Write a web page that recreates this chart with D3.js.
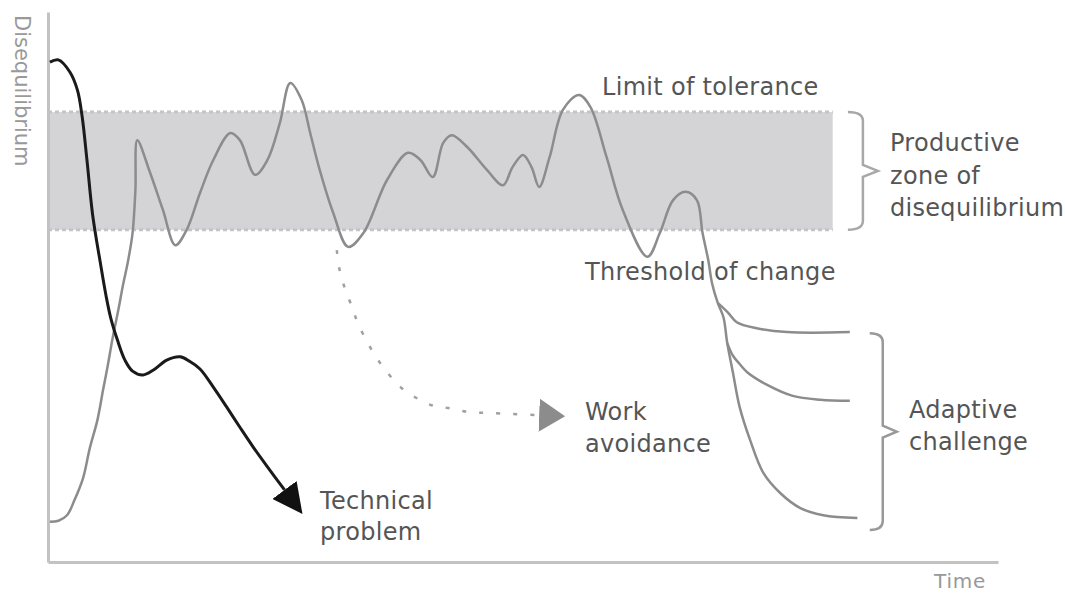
<!DOCTYPE html>
<html>
<head>
<meta charset="utf-8">
<script src="https://cdn.jsdelivr.net/npm/d3@7/dist/d3.min.js"></script>
<style>
  html, body { margin: 0; padding: 0; background: #fff; }
  svg { display: block; }
  .lbl { font-family: "DejaVu Sans", sans-serif; font-size: 24px; fill: #555; letter-spacing: 0.3px; }
  .axlbl { font-family: "DejaVu Sans", sans-serif; font-size: 20px; fill: #999; }
</style>
</head>
<body>
<svg id="chart" width="1065" height="595"></svg>
<script>
// ---- data (time, disequilibrium level), both on 0..100 scales ----
const oscillation = [
  [0.2,7.3],[1.1,7.5],[2.0,8.5],[2.8,11.3],[3.7,15.3],[4.4,20.7],[5.2,25.8],[5.8,31.3],
  [6.3,35.8],[6.8,40.7],[7.4,45.8],[7.9,50.4],[8.4,54.5],[8.9,59.8],[9.2,67.6],[9.4,76.7],
  [10.7,71.0],[12.1,64.0],[13.4,57.6],[14.6,60.4],[16.0,67.1],[17.4,73.1],
  [19.2,78.0],[20.2,76.7],[21.8,70.4],[23.1,73.1],[24.4,79.8],[25.5,87.1],[26.7,84.0],
  [27.6,78.0],[28.6,71.3],[30.0,63.6],[31.6,57.3],[33.2,59.8],[35.7,69.5],[37.9,74.4],
  [39.2,73.1],[40.5,70.0],[41.6,76.2],[42.5,77.6],[44.1,75.5],[46.2,71.3],[47.9,68.5],
  [48.9,71.8],[50.0,74.0],[50.9,71.8],[51.7,68.2],[52.8,73.6],[54.2,82.2],[55.9,84.9],
  [57.1,82.7],[58.8,73.6],[60.5,64.0],[63.1,55.5],[64.4,59.8],[65.8,65.8],[67.1,67.3],
  [68.3,65.8],[68.9,59.8],[69.5,54.9],[69.9,50.7],[70.5,47.1],[71.1,44.5],[71.5,39.8],
  [72.1,34.4],[72.8,28.2],[73.9,22.2],[75.3,16.2],[77.1,12.5],[79.2,9.8],[81.6,8.5],[85.2,8.0]
];
const adaptiveBranchHigh = [
  [70.5,47.1],[71.6,45.3],[72.5,43.6],[74.6,42.5],[77.8,41.8],[84.4,41.8]
];
const adaptiveBranchMid = [
  [71.5,39.8],[72.1,37.5],[72.8,36.0],[73.6,34.5],[75.7,32.2],[78.4,30.2],[81.3,29.5],[84.4,29.3]
];
const technicalProblem = [
  [0.2,90.9],[1.1,91.3],[2.3,89.1],[3.1,85.8],[3.6,80.9],[4.1,73.1],[4.7,63.1],[5.5,54.5],
  [6.1,48.5],[6.6,44.4],[7.3,40.4],[8.1,36.7],[8.9,34.7],[10.0,34.0],[11.1,34.9],[12.5,36.7],
  [13.9,37.3],[14.9,36.5],[16.0,35.1],[17.4,31.8],[18.8,28.2],[20.2,24.5],[21.6,20.9],
  [23.1,17.3],[24.9,13.1]
];
const workAvoidance = [
  [30.4,56.7],[30.7,53.1],[31.3,49.5],[32.0,46.4],[32.6,43.5],[33.6,40.0],[34.6,37.1],
  [35.7,34.5],[37.1,31.8],[38.6,30.0],[40.4,28.5],[42.1,28.0],[44.2,27.3],[46.2,27.1],[51.7,26.7]
];
const limitOfTolerance = 81.8;
const thresholdOfChange = 60.4;
const zoneEndTime = 82.6;
const productiveBraceTime = 84.2;
const adaptiveBraceTime = 86.5;
const adaptiveRange = [41.6, 5.8];
const xAxisLabel = "Time";
const yAxisLabel = "Disequilibrium";

// ---- scales ----
const svg = d3.select("#chart");
const x = d3.scaleLinear().domain([0, 100]).range([48, 998]);
const y = d3.scaleLinear().domain([0, 100]).range([562, 12]);

// productive zone band
svg.append("rect")
  .attr("x", x(0)).attr("y", y(limitOfTolerance))
  .attr("width", x(zoneEndTime) - x(0))
  .attr("height", y(thresholdOfChange) - y(limitOfTolerance))
  .attr("fill", "#d4d4d6");
[limitOfTolerance, thresholdOfChange].forEach(v => {
  svg.append("line")
    .attr("x1", x(0)).attr("x2", x(zoneEndTime))
    .attr("y1", y(v)).attr("y2", y(v))
    .attr("stroke", "#c4c4c6").attr("stroke-width", 3)
    .attr("stroke-dasharray", "4,3");
});

// axes (lines only)
const yAx = svg.append("g").attr("transform", `translate(${x(0)},0)`)
  .call(d3.axisLeft(y).tickValues([]).tickSizeOuter(0));
const xAx = svg.append("g").attr("transform", `translate(0,${y(0)})`)
  .call(d3.axisBottom(x).tickValues([]).tickSizeOuter(0));
[yAx, xAx].forEach(g => g.select(".domain").attr("stroke", "#c2c2c2").attr("stroke-width", 3));

// markers
const defs = svg.append("defs");
defs.append("marker").attr("id", "arrBlack")
  .attr("viewBox", "0 0 10 10").attr("refX", 0).attr("refY", 5)
  .attr("markerUnits", "userSpaceOnUse").attr("markerWidth", 30).attr("markerHeight", 30)
  .attr("orient", "auto").attr("preserveAspectRatio", "none")
  .append("path").attr("d", "M0,0L10,5L0,10Z").attr("fill", "#111");
defs.append("marker").attr("id", "arrGray")
  .attr("viewBox", "0 0 10 10").attr("refX", 0).attr("refY", 5)
  .attr("markerUnits", "userSpaceOnUse").attr("markerWidth", 26).attr("markerHeight", 33)
  .attr("orient", "auto").attr("preserveAspectRatio", "none")
  .append("path").attr("d", "M0,0L10,5L0,10Z").attr("fill", "#8c8c8c");

const line = d3.line().x(d => x(d[0])).y(d => y(d[1])).curve(d3.curveCatmullRom.alpha(0.5));

// work avoidance (dotted)
svg.append("path").datum(workAvoidance).attr("d", line)
  .attr("fill", "none").attr("stroke", "#a0a0a0").attr("stroke-width", 2.5)
  .attr("stroke-dasharray", "4,13").attr("marker-end", "url(#arrGray)");

// adaptive branches
[adaptiveBranchHigh, adaptiveBranchMid].forEach(b => {
  svg.append("path").datum(b).attr("d", line)
    .attr("fill", "none").attr("stroke", "#8c8c8c").attr("stroke-width", 2.5);
});

// main oscillation
svg.append("path").datum(oscillation).attr("d", line)
  .attr("fill", "none").attr("stroke", "#8c8c8c").attr("stroke-width", 2.5)
  .attr("stroke-linejoin", "round");

// technical problem (black)
svg.append("path").datum(technicalProblem).attr("d", line)
  .attr("fill", "none").attr("stroke", "#1a1a1a").attr("stroke-width", 3)
  .attr("marker-end", "url(#arrBlack)");

// braces
function brace(x0, yTop, yBot, depth, tip) {
  const x1 = x0 + depth, xm = x1 + tip, ym = (yTop + yBot) / 2;
  return `M${x0},${yTop} Q${x1},${yTop} ${x1},${yTop + 9} L${x1},${ym - 6} L${xm},${ym} L${x1},${ym + 6} L${x1},${yBot - 9} Q${x1},${yBot} ${x0},${yBot}`;
}
svg.append("path")
  .attr("d", brace(x(productiveBraceTime), y(limitOfTolerance), y(thresholdOfChange), 15, 15))
  .attr("fill", "none").attr("stroke", "#a8a8a8").attr("stroke-width", 2.5);
svg.append("path")
  .attr("d", brace(x(adaptiveBraceTime), y(adaptiveRange[0]), y(adaptiveRange[1]), 13, 14))
  .attr("fill", "none").attr("stroke", "#999").attr("stroke-width", 2.5);

// text labels
function label(lines, px, py, lh) {
  const t = svg.append("text").attr("class", "lbl");
  lines.forEach((s, i) => t.append("tspan").attr("x", px).attr("y", py + i * lh).text(s));
}
label(["Limit of tolerance"], 602, 95, 0);
label(["Threshold of change"], 585, 280, 0);
label(["Productive", "zone of", "disequilibrium"], 890, 151, 32.5);
label(["Work", "avoidance"], 585, 420, 32);
label(["Adaptive", "challenge"], 909, 418, 32);
label(["Technical", "problem"], 320, 509, 31);

svg.append("text").attr("class", "axlbl").attr("x", 934).attr("y", 588)
  .style("letter-spacing", "0.8px").text(xAxisLabel);
svg.append("text").attr("class", "axlbl").style("font-size", "21px")
  .attr("transform", "translate(15,15) rotate(90)").text(yAxisLabel);
</script>
</body>
</html>
